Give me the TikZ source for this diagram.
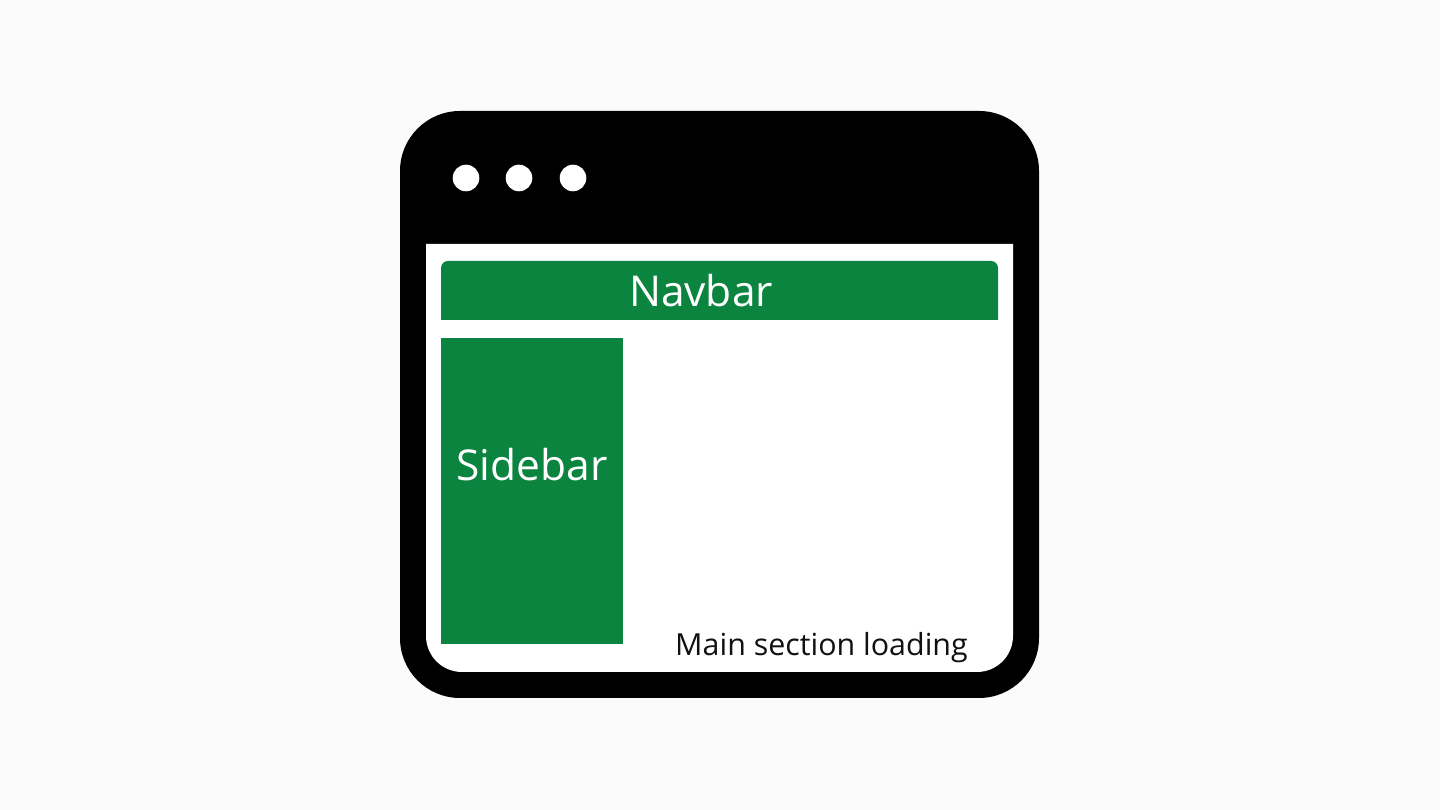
\documentclass[tikz,border=0pt]{standalone}
\usepackage{fontspec}
\setmainfont{Open Sans}
\definecolor{bgc}{RGB}{251,251,251}
\definecolor{grn}{RGB}{10,132,62}
\definecolor{txt}{RGB}{17,17,17}
\begin{document}
\begin{tikzpicture}[x=1pt,y=1pt,
  lbl/.style={inner sep=0pt,anchor=base,text=white,font=\fontsize{42.5}{50}\selectfont},
  dot/.style={fill=white}]
\useasboundingbox (0,0) rectangle (1440,810);
\fill[bgc] (0,0) rectangle (1440,810);
% window frame
\fill[black,rounded corners=60pt] (400,112) rectangle (1039,699);
% dots
\fill[dot] (466,632) circle[radius=13.3];
\fill[dot] (519,632) circle[radius=13.3];
\fill[dot] (573,632) circle[radius=13.3];
% content area
\fill[white] (426,566) -- (1013,566) -- (1013,174) arc[start angle=0,end angle=-90,radius=36]
  -- (462,138) arc[start angle=270,end angle=180,radius=36] -- cycle;
% navbar
\fill[grn] (441,490) -- (441,542) arc[start angle=180,end angle=90,radius=7]
  -- (991,549) arc[start angle=90,end angle=0,radius=7] -- (998,490) -- cycle;
\node[lbl] (navbar) at (701,503) {Navbar};
% sidebar
\fill[grn] (441,166) rectangle (623,472);
\node[lbl] (sidebar) at (532,329) {Sidebar};
% main section
\node[inner sep=0pt,anchor=base,text=txt,font=\fontsize{30.4}{36}\selectfont] (main) at (821.5,154) {Main section loading};
\end{tikzpicture}
\end{document}
